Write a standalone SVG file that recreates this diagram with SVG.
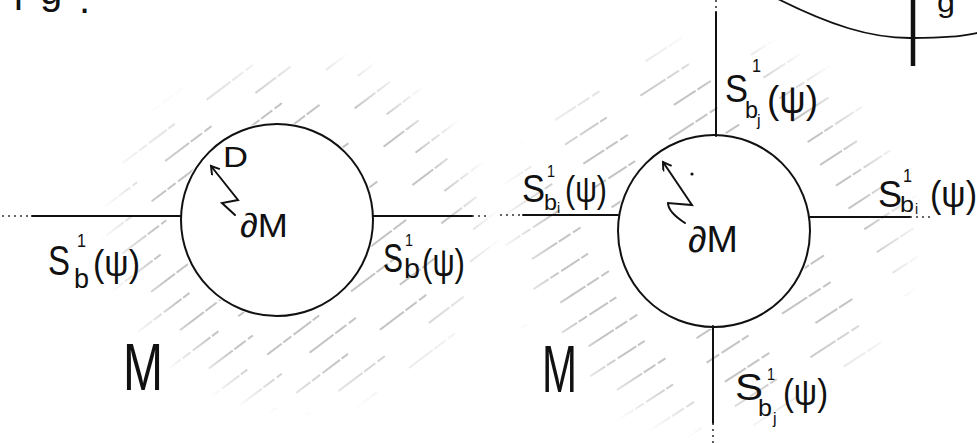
<svg xmlns="http://www.w3.org/2000/svg" width="977" height="443" viewBox="0 0 977 443">
<style>
.t{font-family:"Liberation Sans","DejaVu Sans",sans-serif;fill:#111}
.ln{stroke:#111;stroke-width:2;fill:none;stroke-linecap:round}
.dot{stroke:#333;stroke-width:1.6;fill:none;stroke-dasharray:2 4}
.circ{fill:none;stroke:#111;stroke-width:2}
.hl{stroke:#7a7a7a;stroke-width:0.9;stroke-dasharray:18 2 10 3 22 2 8 40 30 2 14 3 9 55 26 2 16 48}
</style>
<defs>
<pattern id="hatchL" patternUnits="userSpaceOnUse" width="400" height="48" patternTransform="rotate(-37)">
<line class="hl" x1="0" y1="12" x2="400" y2="12"/>
<line class="hl" x1="0" y1="36" x2="400" y2="36" stroke-dashoffset="70"/>
</pattern>
<pattern id="hatchR" patternUnits="userSpaceOnUse" width="400" height="52" patternTransform="rotate(-33)">
<line class="hl" x1="0" y1="13" x2="400" y2="13" stroke-dashoffset="20"/>
<line class="hl" x1="0" y1="39" x2="400" y2="39" stroke-dashoffset="110"/>
</pattern>
<radialGradient id="fade">
<stop offset="0" stop-color="#fff"/>
<stop offset="0.72" stop-color="#fff"/>
<stop offset="1" stop-color="#000"/>
</radialGradient>
<mask id="mL" maskUnits="userSpaceOnUse" x="0" y="0" width="977" height="443">
<ellipse cx="300" cy="232" rx="200" ry="185" fill="url(#fade)"/>
<circle cx="277" cy="220" r="98" fill="#000"/>
</mask>
<mask id="mR" maskUnits="userSpaceOnUse" x="0" y="0" width="977" height="443">
<rect x="0" y="0" width="977" height="443" fill="#000"/>
<ellipse cx="710" cy="235" rx="215" ry="205" fill="url(#fade)"/>
<rect x="0" y="0" width="505" height="443" fill="#000"/>
<circle cx="714" cy="231" r="98" fill="#000"/>
</mask>
<marker id="arr" markerWidth="12" markerHeight="12" refX="9" refY="5" orient="auto" markerUnits="userSpaceOnUse">
<path d="M1,0 L9,5 L1,10" fill="none" stroke="#111" stroke-width="2"/>
</marker>
</defs>

<g id="hatching">
<rect x="0" y="0" width="977" height="443" fill="url(#hatchL)" mask="url(#mL)"/>
<rect x="0" y="0" width="977" height="443" fill="url(#hatchR)" mask="url(#mR)"/>
</g>

<g id="connectors">
<line class="dot" x1="2" y1="216" x2="32" y2="216"/>
<line class="ln" x1="32" y1="216" x2="181" y2="216"/>
<line class="ln" x1="373" y1="216" x2="472" y2="216"/>
<line class="dot" x1="472" y1="216" x2="490" y2="216"/>
<line class="dot" x1="500" y1="215" x2="523" y2="215"/>
<line class="ln" x1="523" y1="215" x2="618" y2="215"/>
<line class="ln" x1="810" y1="217" x2="910" y2="217"/>
<line class="dot" x1="910" y1="217" x2="933" y2="217"/>
<line class="dot" x1="716" y1="0" x2="716" y2="12"/>
<line class="ln" x1="716" y1="12" x2="716" y2="136"/>
<line class="ln" x1="713" y1="326" x2="713" y2="423"/>
<line class="dot" x1="713" y1="423" x2="713" y2="443"/>
<path class="ln" d="M235,215 L222,203 L238,200 L211,166" marker-end="url(#arr)"/>
<path class="ln" d="M685,223 Q668,212 668,203 L692,205 L663,162" marker-end="url(#arr)"/>
</g>

<g id="circle-left">
<circle class="circ" cx="277" cy="220" r="96"/>
<text class="t" x="240" y="237" font-size="34" textLength="48" lengthAdjust="spacingAndGlyphs">∂M</text>
<text class="t" x="223" y="167" font-size="30" textLength="25" lengthAdjust="spacingAndGlyphs">D</text>
</g>

<g id="circle-right">
<circle class="circ" cx="714" cy="231" r="96"/>
<text class="t" x="688" y="252" font-size="36" textLength="50" lengthAdjust="spacingAndGlyphs">∂M</text>
<circle cx="692" cy="174" r="1.6" fill="#111"/>
</g>

<g id="label-left-Sb-left">
<text class="t" x="48" y="275" font-size="42" textLength="22" lengthAdjust="spacingAndGlyphs">S</text>
<text class="t" x="77" y="247" font-size="18" textLength="9" lengthAdjust="spacingAndGlyphs">1</text>
<text class="t" x="74" y="288" font-size="28" textLength="15" lengthAdjust="spacingAndGlyphs">b</text>
<text class="t" x="93" y="276" font-size="36" textLength="47" lengthAdjust="spacingAndGlyphs">(ψ)</text>
</g>

<g id="label-left-Sb-right">
<text class="t" x="383" y="272" font-size="40" textLength="20" lengthAdjust="spacingAndGlyphs">S</text>
<text class="t" x="405" y="246" font-size="17" textLength="8" lengthAdjust="spacingAndGlyphs">1</text>
<text class="t" x="404" y="278" font-size="28" textLength="16" lengthAdjust="spacingAndGlyphs">b</text>
<text class="t" x="422" y="276" font-size="38" textLength="43" lengthAdjust="spacingAndGlyphs">(ψ)</text>
</g>

<g id="label-M-left">
<text class="t" x="123" y="390" font-size="66" textLength="40" lengthAdjust="spacingAndGlyphs">M</text>
</g>

<g id="label-right-top">
<text class="t" x="725" y="102" font-size="38" textLength="23" lengthAdjust="spacingAndGlyphs">S</text>
<text class="t" x="752" y="72" font-size="18" textLength="9" lengthAdjust="spacingAndGlyphs">1</text>
<text class="t" x="745" y="118" font-size="24" textLength="13" lengthAdjust="spacingAndGlyphs">b</text>
<text class="t" x="757" y="126" font-size="16">j</text>
<text class="t" x="767" y="113" font-size="38" textLength="51" lengthAdjust="spacingAndGlyphs">(ψ)</text>
</g>

<g id="label-right-left">
<text class="t" x="522" y="202" font-size="38" textLength="23" lengthAdjust="spacingAndGlyphs">S</text>
<text class="t" x="547" y="177" font-size="17" textLength="8" lengthAdjust="spacingAndGlyphs">1</text>
<text class="t" x="544" y="210" font-size="22" textLength="13" lengthAdjust="spacingAndGlyphs">b</text>
<text class="t" x="557" y="213" font-size="14">i</text>
<text class="t" x="565" y="202" font-size="36" textLength="42" lengthAdjust="spacingAndGlyphs">(ψ)</text>
</g>

<g id="label-right-right">
<text class="t" x="878" y="207" font-size="36" textLength="24" lengthAdjust="spacingAndGlyphs">S</text>
<text class="t" x="903" y="182" font-size="18" textLength="9" lengthAdjust="spacingAndGlyphs">1</text>
<text class="t" x="900" y="212" font-size="22" textLength="14" lengthAdjust="spacingAndGlyphs">b</text>
<text class="t" x="915" y="214" font-size="14">i</text>
<text class="t" x="930" y="207" font-size="36" textLength="47" lengthAdjust="spacingAndGlyphs">(ψ)</text>
</g>

<g id="label-right-bottom">
<text class="t" x="735" y="400" font-size="36" textLength="28" lengthAdjust="spacingAndGlyphs">S</text>
<text class="t" x="767" y="380" font-size="16" textLength="8" lengthAdjust="spacingAndGlyphs">1</text>
<text class="t" x="758" y="416" font-size="24" textLength="14" lengthAdjust="spacingAndGlyphs">b</text>
<text class="t" x="773" y="424" font-size="16">j</text>
<text class="t" x="783" y="405" font-size="36" textLength="45" lengthAdjust="spacingAndGlyphs">(ψ)</text>
</g>

<g id="label-M-right">
<text class="t" x="542" y="392" font-size="66" textLength="35" lengthAdjust="spacingAndGlyphs">M</text>
</g>

<g id="fragment-top-left">
<text class="t" font-size="40"><tspan x="14" y="10">i</tspan><tspan x="40" y="4">g</tspan><tspan x="79" y="13">.</tspan></text>
</g>

<g id="fragment-top-right">
<path d="M778,-1 C830,25 870,38 910,38 S960,36 977,33" fill="none" stroke="#111" stroke-width="1.8"/>
<line x1="913" y1="0" x2="913" y2="66" stroke="#111" stroke-width="4.5"/>
<text class="t" x="937" y="12" font-size="30" textLength="18" lengthAdjust="spacingAndGlyphs">g</text>
</g>
</svg>
